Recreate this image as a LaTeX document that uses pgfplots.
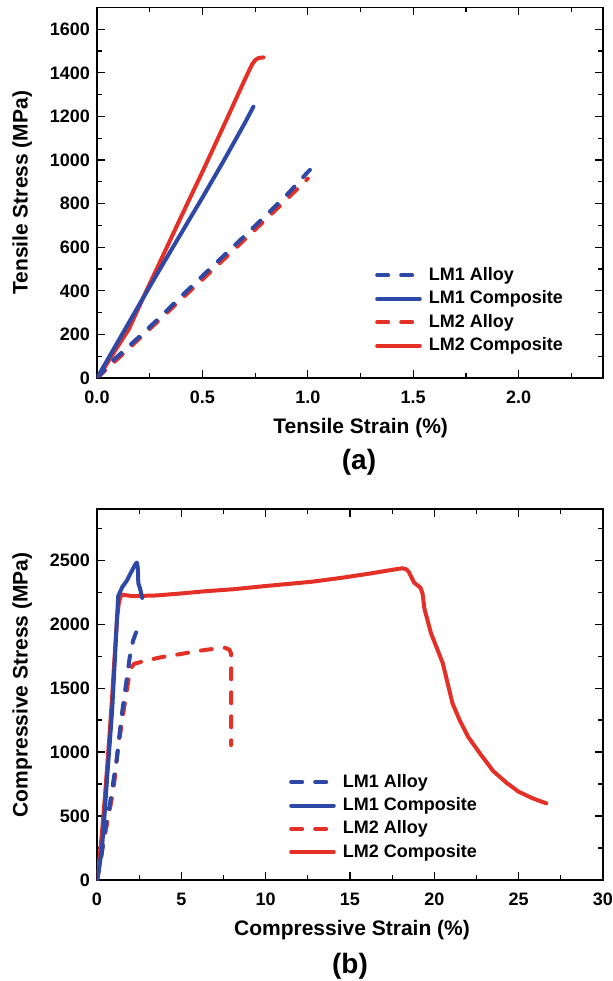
\documentclass[border=0pt]{standalone}
\usepackage{fontspec}
\setmainfont{Liberation Sans}
\usepackage{pgfplots}
\pgfplotsset{compat=1.18}
\definecolor{cblue}{RGB}{46,72,166}
\definecolor{cred}{RGB}{228,48,38}

\tikzset{
  dsh/.style={dash pattern=on 5.5pt off 6.5pt},
  crv/.style={line width=2pt, line cap=round, line join=round},
}
\pgfplotsset{panel/.style={
  scale only axis, width=253pt,
  axis line style={line width=0.8pt},
  tick align=inside, xtick pos=both, ytick pos=both,
  major tick length=3.8pt, minor tick length=2.4pt,
  every tick/.style={black, line width=0.6pt},
  tick label style={font=\bfseries\fontsize{9}{10.8}\selectfont},
  xticklabel style={yshift=-3pt},
  /pgf/number format/assume math mode=true,
  /pgf/number format/1000 sep={},
  label style={font=\bfseries\fontsize{10.5}{12.6}\selectfont},
  xlabel style={anchor=center},
  ylabel style={anchor=center},
  legend style={draw=none, fill=none, inner sep=0pt, row sep=1.7pt, column sep=2.5pt,
    nodes={inner sep=1pt, text depth=0.15em}, font=\bfseries\fontsize{9}{10.8}\selectfont},
  legend cell align=left,
  legend image code/.code={\draw[#1] (0pt,0pt) -- (21.3pt,0pt);},
}}

\begin{document}
\begin{tikzpicture}

% (a) tensile
\begin{axis}[panel, at={(48.5pt,301.5pt)}, anchor=south west, height=185.25pt,
  xmin=0, xmax=2.4, ymin=0, ymax=1700,
  xtick={0,0.5,1,1.5,2}, minor xtick={0.25,0.75,1.25,1.75,2.25},
  ytick={0,200,...,1600}, minor ytick={100,300,...,1500},
  xticklabel style={/pgf/number format/.cd, fixed, fixed zerofill, precision=1},
  xlabel={Tensile Strain (\%)}, ylabel={Tensile Stress (MPa)},
  xlabel style={at={(axis description cs:0.521,-0.135)}},
  ylabel style={at={(axis description cs:-0.148,0.5)}},
  legend style={at={(axis description cs:0.549,0.305)}, anchor=north west}]

\addlegendimage{cblue, crv, dsh}
\addlegendentry{LM1 Alloy}
\addlegendimage{cblue, crv}
\addlegendentry{LM1 Composite}
\addlegendimage{cred, crv, dsh}
\addlegendentry{LM2 Alloy}
\addlegendimage{cred, crv}
\addlegendentry{LM2 Composite}

% LM2 Composite
\addplot[cred, crv, forget plot] coordinates {
(0,0) (0.03,40) (0.09,132) (0.15,222) (0.232,395) (0.3,535) (0.4,742)
(0.504,954) (0.6,1155) (0.7,1367) (0.722,1412) (0.735,1438) (0.75,1458)
(0.765,1468) (0.79,1471)
};
% LM2 Alloy
\addplot[cred, crv, dsh, forget plot] coordinates {
(0,0) (0.1,90) (0.2,180) (0.3,270) (0.4,362) (0.5,452) (0.6,543)
(0.7,635) (0.8,727) (0.9,820) (1.0,915)
};
% LM1 Composite
\addplot[cblue, crv, forget plot] coordinates {
(0,0) (0.1,168) (0.2,336) (0.3,502) (0.4,665) (0.5,828) (0.6,995)
(0.7,1168) (0.742,1245)
};
% LM1 Alloy
\addplot[cblue, crv, dsh, forget plot] coordinates {
(0,0) (0.08,84) (0.15,145) (0.224,210) (0.3,280) (0.4,375) (0.5,468)
(0.6,560) (0.7,652) (0.8,745) (0.9,840) (1.0,945) (1.01,955)
};
\end{axis}

% (b) compressive
\begin{axis}[panel, at={(48.5pt,50.5pt)}, anchor=south west, height=185.5pt,
  xmin=0, xmax=30, ymin=0, ymax=2900,
  xtick={0,5,...,30}, minor xtick={2.5,7.5,...,27.5},
  ytick={0,500,...,2500}, minor ytick={250,750,...,2750},
  xlabel={Compressive Strain (\%)}, ylabel={Compressive Stress (MPa)},
  xlabel style={at={(axis description cs:0.504,-0.135)}},
  ylabel style={at={(axis description cs:-0.148,0.526)}},
  legend style={at={(axis description cs:0.379,0.292)}, anchor=north west}]

\addlegendimage{cblue, crv, dsh}
\addlegendentry{LM1 Alloy}
\addlegendimage{cblue, crv}
\addlegendentry{LM1 Composite}
\addlegendimage{cred, crv, dsh}
\addlegendentry{LM2 Alloy}
\addlegendimage{cred, crv}
\addlegendentry{LM2 Composite}

% LM2 Composite
\addplot[cred, crv, forget plot] coordinates {
(0,0) (0.15,170) (0.3,380) (0.45,620) (0.6,880) (0.75,1150) (0.9,1440)
(1.05,1760) (1.2,2060) (1.3,2170) (1.4,2215) (1.52,2230) (2.1,2219)
(3.5,2224) (5,2240) (6.5,2258) (8.1,2273) (10,2298) (12.7,2331) (14.5,2362)
(16.2,2396) (17.2,2418) (18.1,2437) (18.35,2428) (18.5,2405) (18.8,2325)
(19.18,2284) (19.3,2240) (19.41,2122) (19.8,1930) (20.5,1695) (21.08,1380)
(21.5,1250) (22,1120) (22.7,990) (23.5,850) (24.3,758) (25,690) (25.8,640)
(26.64,599)
};
% LM2 Alloy
\addplot[cred, crv, dsh, forget plot] coordinates {
(0,0) (0.2,150) (0.37,286) (0.67,493) (0.97,701) (1.26,1040) (1.56,1307)
(1.86,1559) (2.05,1660) (2.2,1690) (3.0,1718) (3.93,1745) (4.9,1765)
(5.71,1784) (6.5,1800) (7.3,1812) (7.6,1815) (7.85,1800) (7.95,1770)
(7.95,1055)
};
% LM1 Composite
\addplot[cblue, crv, forget plot] coordinates {
(0,0) (0.15,110) (0.3,260) (0.45,510) (0.6,800) (0.75,1060) (0.9,1330)
(1.05,1700) (1.15,1960) (1.26,2220) (1.5,2290) (1.76,2338) (2.1,2425)
(2.25,2462) (2.36,2482) (2.42,2440) (2.45,2320) (2.55,2280) (2.68,2205)
};
% LM1 Alloy
\addplot[cblue, crv, dsh, forget plot] coordinates {
(0,0) (0.2,130) (0.47,390) (0.77,598) (1.16,935) (1.45,1273) (1.75,1559)
(1.94,1740) (2.14,1871) (2.3,1930) (2.38,1950)
};
\end{axis}

\node[font=\bfseries\fontsize{14}{16.8}\selectfont] at (179.5pt,259.5pt) {(a)};
\node[font=\bfseries\fontsize{14}{16.8}\selectfont] at (175pt,7.5pt) {(b)};

\pgfresetboundingbox
\path[use as bounding box] (0,0) rectangle (306.5pt,490.5pt);
\end{tikzpicture}
\end{document}
